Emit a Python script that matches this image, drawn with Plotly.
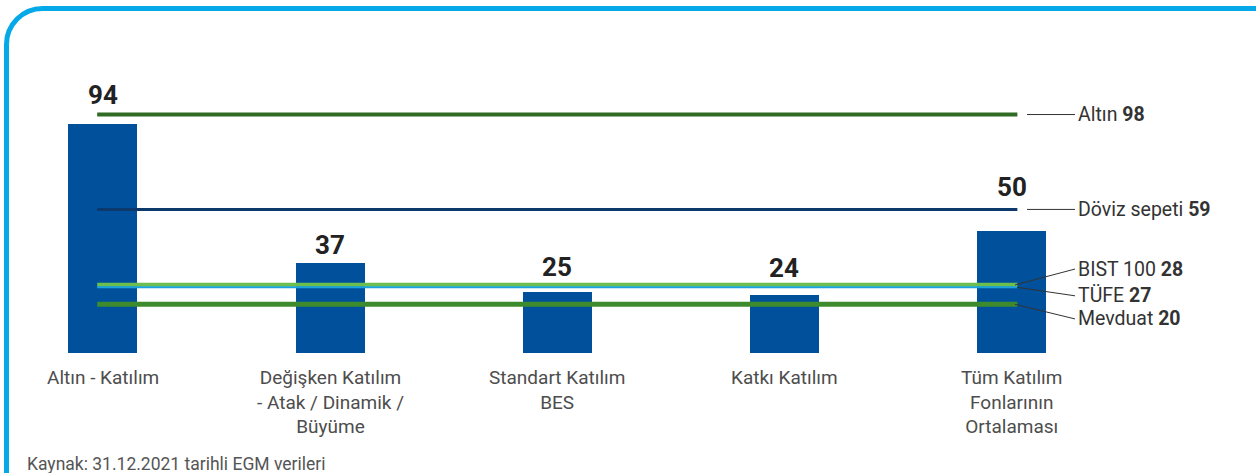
import plotly.graph_objects as go

# Bars: average returns of participation funds (%)
categories = [
    "Altın - Katılım",
    "Değişken Katılım<br>- Atak / Dinamik /<br>Büyüme",
    "Standart Katılım<br>BES",
    "Katkı Katılım",
    "Tüm Katılım<br>Fonlarının<br>Ortalaması",
]
fund_returns = [94, 37, 25, 24, 50]

# Benchmark lines
bench_names = ["Altın", "Döviz sepeti", "BIST 100", "TÜFE", "Mevduat"]
bench_values = [98, 59, 28, 27, 20]
bench_colors = ["#2f6b22", "#0c386c", "#6cbf4e", "#1aa3df", "#3e8b2d"]
bench_widths = [4, 3, 4, 2, 5]

source_note = "Kaynak: 31.12.2021 tarihli EGM verileri"

# layout geometry (pixels)
W, H = 1256, 473
L, R, T, B = 12, 108, 61, 120
PW, PH = W - L - R, H - T - B
BOTTOM = T + PH

def px_x(p):
    return (p - L) / PW

def px_y(p):
    return (BOTTOM - p) / PH

x_idx = list(range(len(categories)))
fig = go.Figure()

fig.add_trace(go.Bar(
    x=x_idx, y=fund_returns, width=0.304,
    marker=dict(color="#00509b", line=dict(width=0)),
    showlegend=False, hoverinfo="skip",
))

for name, val, col, w in zip(bench_names, bench_values, bench_colors, bench_widths):
    fig.add_trace(go.Scatter(
        x=[x_idx[0] - 0.025, x_idx[-1] + 0.025], y=[val, val], mode="lines",
        line=dict(color=col, width=w), showlegend=False, hoverinfo="skip",
        name=name,
    ))

# value labels above bars (pixel shift to dodge the lines)
label_shift = [29, 18, 25, 27, 44]
for i, (v, s) in enumerate(zip(fund_returns, label_shift)):
    fig.add_annotation(x=i, y=v, text=f"<b>{v}</b>", showarrow=False,
                       yanchor="middle", yshift=s,
                       font=dict(family="Roboto", size=26, color="#222222"))

# category labels
for i, c in enumerate(categories):
    fig.add_annotation(x=i, y=0, yref="paper", text=c, showarrow=False,
                       yanchor="top", yshift=-11, align="center",
                       font=dict(family="Roboto", size=19, color="#4d4d4d"))

# right-hand benchmark labels with leader lines
label_pos = {"Altın": 98, "Döviz sepeti": 59, "BIST 100": 34.5, "TÜFE": 23.5, "Mevduat": 14}
leader_start = {"Altın": 1027, "Döviz sepeti": 1027, "BIST 100": 1015, "TÜFE": 1017, "Mevduat": 1015}
for name, val in zip(bench_names, bench_values):
    ly = label_pos[name]
    fig.add_shape(type="line", xref="paper", yref="y",
                  x0=px_x(leader_start[name]), y0=val, x1=px_x(1075), y1=ly,
                  line=dict(color="#333333", width=1))
    fig.add_annotation(x=px_x(1076), xref="paper", y=ly, text=f"{name} <b>{val}</b>",
                       showarrow=False, xanchor="left", yanchor="middle",
                       font=dict(family="Roboto", size=19.5, color="#333333"))

# rounded frame (top + left)
r = 36
k = 0.55 * r
fx, fy = 6.5, 8.5
path = (f"M {px_x(fx)},{px_y(500)} L {px_x(fx)},{px_y(fy + r)} "
        f"C {px_x(fx)},{px_y(fy + r - k)} {px_x(fx + r - k)},{px_y(fy)} {px_x(fx + r)},{px_y(fy)} "
        f"L {px_x(1300)},{px_y(fy)}")
fig.add_shape(type="path", xref="paper", yref="paper", path=path,
              line=dict(color="#06a9e8", width=5))

fig.add_annotation(x=px_x(25), xref="paper", y=px_y(464), yref="paper",
                   text=source_note, showarrow=False, xanchor="left", yanchor="middle",
                   font=dict(family="Roboto", size=17.5, color="#555555"))

fig.update_layout(
    width=W, height=H,
    margin=dict(l=L, r=R, t=T, b=B),
    plot_bgcolor="white", paper_bgcolor="white",
    xaxis=dict(range=[-0.4, 4.6], visible=False, fixedrange=True),
    yaxis=dict(range=[0, 120], visible=False, fixedrange=True),
    bargap=0,
)

fig.write_html("out.html", post_script="document.body.style.margin='0';",
               config={"displayModeBar": False})
